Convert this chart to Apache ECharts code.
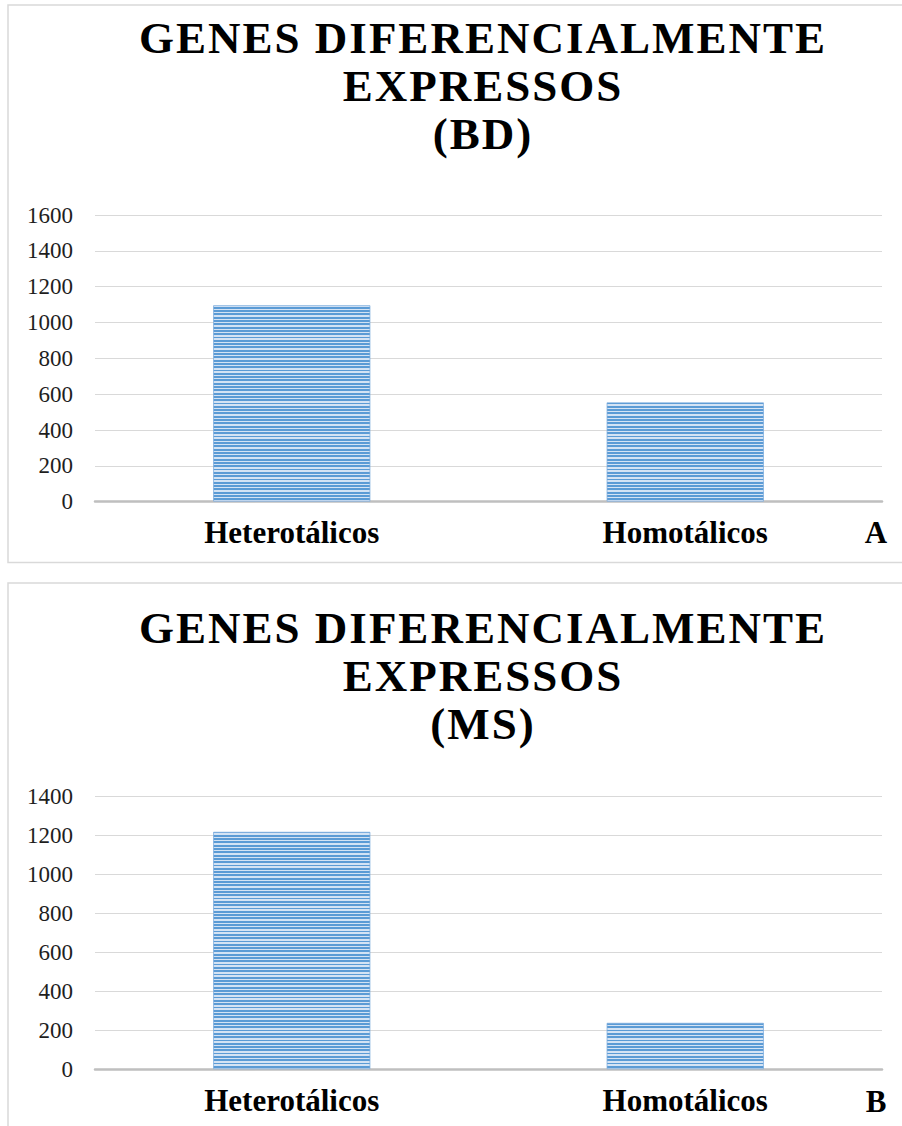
<!DOCTYPE html>
<html>
<head>
<meta charset="utf-8">
<script src="https://cdn.jsdelivr.net/npm/echarts@6/dist/echarts.min.js"></script>
<style>
  html, body { margin: 0; padding: 0; background: #fff; }
  #chart { width: 902px; height: 1126px; }
</style>
</head>
<body>
<div id="chart"></div>
<script>
// Categories and values for the two panels
const categories = ['Heterotálicos', 'Homotálicos'];
const valuesBD = [1097, 555];
const valuesMS = [1220, 239];
const titleBD = ['GENES DIFERENCIALMENTE', 'EXPRESSOS', '(BD)'];
const titleMS = ['GENES DIFERENCIALMENTE', 'EXPRESSOS', '(MS)'];
const panelTags = ['A', 'B'];
const axisBD = { min: 0, max: 1600, interval: 200 };
const axisMS = { min: 0, max: 1400, interval: 200 };

const SERIF = "'Liberation Serif', 'Times New Roman', serif";

// Horizontal-line fill used for the bars (narrow horizontal stripes)
function stripeFill(height, period, darkPart, dark, light) {
  const stops = [];
  for (let y = 0; y < height; y += period) {
    const a = y / height;
    const b = Math.min((y + period * darkPart) / height, 1);
    const c = Math.min((y + period) / height, 1);
    stops.push({ offset: a, color: dark }, { offset: b, color: dark });
    stops.push({ offset: b, color: light }, { offset: c, color: light });
  }
  return { type: 'linear', x: 0, y: 0, x2: 0, y2: height, global: true, colorStops: stops };
}
const barFill = stripeFill(1126, 3.3, 0.55, '#5b9bd5', '#d4e3f4');

function yAxisFor(gridIndex, ax) {
  return {
    type: 'value', gridIndex: gridIndex,
    min: ax.min, max: ax.max, interval: ax.interval,
    axisLine: { show: false }, axisTick: { show: false },
    axisLabel: { margin: 22, fontFamily: SERIF, fontSize: 23, color: '#1e1e1e',
                 formatter: function (v) { return String(v); } },
    splitLine: { lineStyle: { color: '#d9d9d9', width: 1.2 } }
  };
}
function xAxisFor(gridIndex) {
  return {
    type: 'category', gridIndex: gridIndex, data: categories,
    axisTick: { show: false },
    axisLine: { lineStyle: { color: '#bfbfbf', width: 2.5 } },
    axisLabel: { margin: 15.5, fontFamily: SERIF, fontSize: 31, fontWeight: 'bold',
                 color: '#000', lineHeight: 31 }
  };
}
function barSeries(idx, values) {
  return {
    type: 'bar', xAxisIndex: idx, yAxisIndex: idx, data: values, barWidth: '40%',
    itemStyle: { color: barFill, borderColor: 'rgba(120,170,220,0.75)', borderWidth: 1 },
    silent: true
  };
}
function titleFor(lines, top) {
  return {
    text: lines.join('\n'), left: 483, top: top, padding: 0, textAlign: 'center',
    textStyle: { fontFamily: SERIF, fontSize: 45, fontWeight: 'bold', color: '#000', lineHeight: 48 }
  };
}

const chart = echarts.init(document.getElementById('chart'), null, { renderer: 'svg' });
chart.setOption({
  animation: false,
  backgroundColor: '#fff',
  title: [titleFor(titleBD, 13.5), titleFor(titleMS, 604)],
  grid: [
    { left: 95, top: 215, width: 787, height: 286.7 },
    { left: 95, top: 796.7, width: 787, height: 272.6 }
  ],
  xAxis: [xAxisFor(0), xAxisFor(1)],
  yAxis: [yAxisFor(0, axisBD), yAxisFor(1, axisMS)],
  series: [barSeries(0, valuesBD), barSeries(1, valuesMS)],
  graphic: [
    { type: 'rect', z: -1, shape: { x: 8, y: 5, width: 1000, height: 557.5 },
      style: { fill: 'none', stroke: '#d9d9d9', lineWidth: 1.5 } },
    { type: 'rect', z: -1, shape: { x: 8, y: 583, width: 1000, height: 1000 },
      style: { fill: 'none', stroke: '#d9d9d9', lineWidth: 1.5 } },
    { type: 'text', x: 876, y: 532.8,
      style: { text: panelTags[0], font: 'bold 31px ' + SERIF, fill: '#000',
               textAlign: 'center', textVerticalAlign: 'middle' } },
    { type: 'text', x: 876, y: 1101,
      style: { text: panelTags[1], font: 'bold 31px ' + SERIF, fill: '#000',
               textAlign: 'center', textVerticalAlign: 'middle' } }
  ]
});

// Spread the heading letters a little, as in the printed figure
const headingLines = new Set(titleBD.concat(titleMS));
function spaceHeadings() {
  document.querySelectorAll('#chart text').forEach(function (t) {
    if (headingLines.has(t.textContent)) t.style.letterSpacing = '2px';
  });
}
chart.on('finished', spaceHeadings);
spaceHeadings();
setTimeout(spaceHeadings, 50);
</script>
</body>
</html>
